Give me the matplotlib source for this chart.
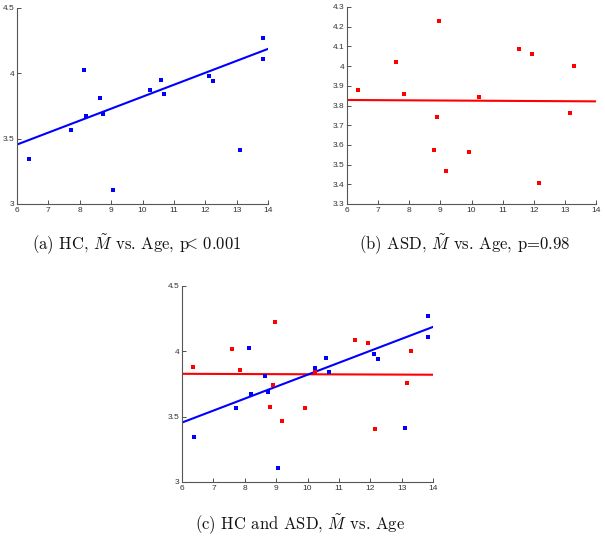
import matplotlib
matplotlib.use('Agg')
import numpy as np
import matplotlib.pyplot as plt

# HC group (blue): age vs M-tilde
hc_age = [6.37, 7.73, 8.12, 8.19, 8.66, 8.74, 9.06, 10.23, 10.58, 10.69,
          12.12, 12.25, 13.10, 13.84, 13.84]
hc_m = [3.343, 3.567, 4.025, 3.676, 3.814, 3.686, 3.107, 3.869, 3.946, 3.839,
        3.976, 3.941, 3.412, 4.271, 4.111]

# ASD group (red)
asd_age = [6.34, 7.59, 7.84, 8.81, 8.89, 8.95, 9.18, 9.93, 10.25, 11.52,
           11.93, 12.16, 13.18, 13.30]
asd_m = [3.878, 4.019, 3.858, 3.576, 3.744, 4.227, 3.468, 3.564, 3.844, 4.086,
         4.063, 3.407, 3.761, 4.002]

# fitted lines (value at age 6 and age 14)
fit_age = [6, 14]
hc_fit = [3.455, 4.187]
asd_fit = [3.828, 3.821]

captions = [
    r"(a) HC, $\tilde{M}$ vs. Age, p$\!\!\!<\!$ 0.001",
    r"(b) ASD, $\tilde{M}$ vs. Age, p=0.98",
    r"(c) HC and ASD, $\tilde{M}$ vs. Age",
]

plt.rcParams['mathtext.fontset'] = 'cm'

W, H = 605, 539
fig = plt.figure(figsize=(W / 100, H / 100), dpi=100)


def make_ax(left, top, right, bottom):
    ax = fig.add_axes([left / W, 1 - bottom / H, (right - left) / W, (bottom - top) / H])
    for s in ['top', 'right']:
        ax.spines[s].set_visible(False)
    for s in ['left', 'bottom']:
        ax.spines[s].set_color('#555555')
        ax.spines[s].set_linewidth(0.8)
    ax.tick_params(direction='in', length=3, width=0.6, labelsize=6, colors='#333333', pad=2)
    ax.set_xlim(6, 14)
    ax.set_xticks(range(6, 15))
    return ax


def ylabels(ax, ticks, fmt):
    ax.set_yticks(ticks)
    ax.set_yticklabels([fmt(t) for t in ticks], family='Liberation Sans')
    ax.set_xticklabels([str(t) for t in range(6, 15)], family='Liberation Sans')


blue = '#0000ff'
red = '#ff0000'
ms = 2.6

# (a)
ax1 = make_ax(17, 8, 268, 204)
ax1.set_ylim(3, 4.5)
ylabels(ax1, [3, 3.5, 4, 4.5], lambda t: f"{t:g}")
ax1.plot(fit_age, hc_fit, color=blue, lw=1.5)
ax1.plot(hc_age, hc_m, 's', color=blue, ms=ms, mew=0)

# (b)
ax2 = make_ax(347, 7, 596, 204)
ax2.set_ylim(3.3, 4.3)
ylabels(ax2, np.round(np.arange(3.3, 4.31, 0.1), 1), lambda t: f"{t:g}")
ax2.plot(fit_age, asd_fit, color=red, lw=1.5)
ax2.plot(asd_age, asd_m, 's', color=red, ms=ms, mew=0)

# (c)
ax3 = make_ax(182, 286, 433, 482)
ax3.set_ylim(3, 4.5)
ylabels(ax3, [3, 3.5, 4, 4.5], lambda t: f"{t:g}")
ax3.plot(fit_age, asd_fit, color=red, lw=1.5)
ax3.plot(fit_age, hc_fit, color=blue, lw=1.5)
ax3.plot(asd_age, asd_m, 's', color=red, ms=ms, mew=0)
ax3.plot(hc_age, hc_m, 's', color=blue, ms=ms, mew=0)

# captions
cap_pos = [(137, 245), (465, 245), (300, 525)]
for (cx, cy), txt in zip(cap_pos, captions):
    fig.text(cx / W, 1 - cy / H, txt, ha='center', va='center',
             fontsize=12, family='cmr10', color='#111111')

fig.savefig('out.png', dpi=100)
